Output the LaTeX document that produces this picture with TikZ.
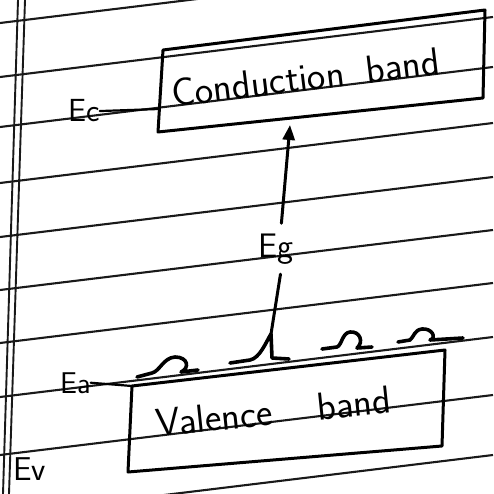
\documentclass[tikz,border=0pt]{standalone}
\usetikzlibrary{arrows.meta}
\tikzset{
  ruled/.style={line width=2.1pt, black!90},
  margin/.style={line width=1.9pt, black!90},
  ink/.style={line width=3pt, black, line cap=round, line join=round},
  thinink/.style={line width=2.2pt, black, line cap=round},
  lbl/.style={inner sep=0pt, font=\sffamily\fontsize{#1}{#1}\selectfont},
}
\begin{document}
\begin{tikzpicture}[x=1pt,y=-1pt]
\useasboundingbox (0,0) rectangle (493,494);
\fill[white] (0,0) rectangle (493,494);
\clip (0,0) rectangle (493,494);
% ruled paper
\foreach \y in {23,77,127,183,237,290,343,397,455,515}
  \draw[ruled] (0,\y) -- (493,\y-60);
\draw[margin] (18,0) -- (3,494);
\draw[margin] (25,0) -- (9,494);
% conduction band
\coordinate (cTL) at (163,50);
\coordinate (cTR) at (485,10);
\coordinate (cBR) at (483,98);
\coordinate (cBL) at (158,132);
\coordinate (cL) at (159,109);
\coordinate (cArrow) at (290,125);
\draw[ink] (cTL) -- (cTR) -- (cBR) -- (cBL) -- cycle;
\node[lbl=39, rotate=7, anchor=base west] (cb) at (173,107) {Conduction\hspace{22pt}band};
\node[lbl=32, anchor=base west] (Ec) at (68,122) {Ec};
\draw[thinink] (Ec.east) -- (cL);
% valence band
\coordinate (vTL) at (132,386);
\coordinate (vTR) at (445,350);
\coordinate (vBR) at (442,446);
\coordinate (vBL) at (128,472);
\draw[ink] (vTL) -- (vTR) -- (vBR) -- (vBL) -- cycle;
\node[lbl=39, rotate=6, anchor=base west] (vb) at (157,437) {Valence\hspace{45pt}band};
\node[lbl=30, anchor=base west] (Ea) at (60,393) {Ea};
\draw[thinink] (Ea.east) -- (vTL);
\node[lbl=33, anchor=base west] (Ev) at (13,480) {Ev};
% energy gap
\node[lbl=34, inner ysep=10pt, anchor=base] (Eg) at (276,257) {Eg};
\coordinate (a2) at (271,334);
\draw[ink, -{Triangle[length=15pt,width=12pt]}] (Eg.78) -- (cArrow);
\draw[ink] (Eg.-80) -- (a2);
% acceptor level squiggles
\draw[ink, line width=3.6pt] (137,377) -- (152,373) .. controls (160,371) and (163,358) .. (175,357)
  .. controls (188,357) and (190,368) .. (181,372) -- (198,370);
\draw[ink, line width=3.6pt] (230,363) -- (250,360) .. controls (260,358) and (266,342) .. (a2)
  -- (272,358) -- (289,359);
\draw[ink, line width=3.6pt] (322,349) -- (337,347) .. controls (342,345) and (342,333) .. (350,332)
  .. controls (360,331) and (364,342) .. (357,348) -- (372,347);
\draw[ink, line width=3.6pt] (398,342) -- (410,340) .. controls (414,337) and (414,330) .. (422,329)
  .. controls (432,328) and (437,338) .. (430,340) -- (463,338);
\end{tikzpicture}
\end{document}
